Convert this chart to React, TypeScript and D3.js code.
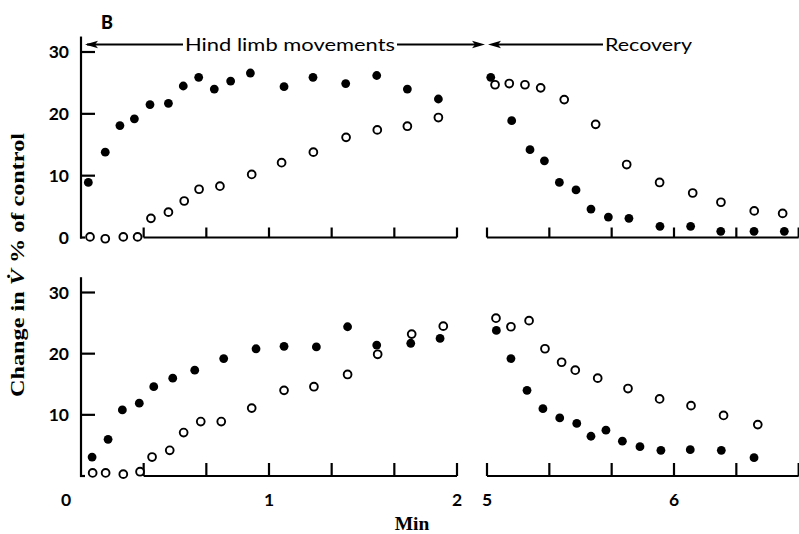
import React from "react";
import * as d3 from "d3";

// Data: [time (min), change in V (% of control)]
const topFilledExercise: [number, number][] = [
  [0.039, 8.9], [0.129, 13.8], [0.207, 18.1], [0.284, 19.2], [0.367, 21.5], [0.465, 21.7],
  [0.544, 24.5], [0.626, 25.9], [0.709, 24.0], [0.796, 25.3], [0.901, 26.6], [1.08, 24.4],
  [1.234, 25.9], [1.408, 24.9], [1.573, 26.2], [1.736, 24.0], [1.901, 22.4],
];
const topOpenExercise: [number, number][] = [
  [0.048, 0.1], [0.129, -0.2], [0.225, 0.1], [0.301, 0.1], [0.372, 3.1], [0.465, 4.1],
  [0.549, 5.9], [0.628, 7.8], [0.739, 8.3], [0.908, 10.2], [1.067, 12.1], [1.236, 13.8],
  [1.41, 16.2], [1.576, 17.4], [1.736, 18.0], [1.901, 19.4],
];
const topFilledRecovery: [number, number][] = [
  [5.02, 25.9], [5.132, 18.9], [5.23, 14.2], [5.307, 12.4], [5.387, 8.9], [5.476, 7.7],
  [5.556, 4.6], [5.649, 3.3], [5.759, 3.1], [5.925, 1.8], [6.089, 1.8], [6.25, 1.0],
  [6.428, 1.0], [6.59, 1.0],
];
const topOpenRecovery: [number, number][] = [
  [5.043, 24.7], [5.119, 24.9], [5.203, 24.7], [5.287, 24.2], [5.413, 22.3], [5.581, 18.3],
  [5.747, 11.8], [5.923, 8.9], [6.1, 7.2], [6.251, 5.7], [6.429, 4.3], [6.581, 3.9],
];
const botFilledExercise: [number, number][] = [
  [0.059, 3.1], [0.144, 6.0], [0.22, 10.8], [0.31, 11.9], [0.387, 14.6], [0.488, 16.0],
  [0.605, 17.3], [0.759, 19.2], [0.931, 20.8], [1.08, 21.2], [1.252, 21.1], [1.418, 24.4],
  [1.573, 21.4], [1.754, 21.7], [1.91, 22.5],
];
const botOpenExercise: [number, number][] = [
  [0.062, 0.5], [0.131, 0.5], [0.225, 0.3], [0.314, 0.7], [0.378, 3.1], [0.472, 4.2],
  [0.546, 7.1], [0.637, 8.9], [0.746, 8.9], [0.908, 11.1], [1.08, 14.0], [1.239, 14.6],
  [1.418, 16.6], [1.578, 19.9], [1.759, 23.2], [1.927, 24.5],
];
const botFilledRecovery: [number, number][] = [
  [5.05, 23.8], [5.128, 19.2], [5.214, 14.0], [5.299, 11.0], [5.389, 9.5], [5.48, 8.6],
  [5.556, 6.5], [5.636, 7.5], [5.724, 5.7], [5.818, 4.8], [5.93, 4.2], [6.087, 4.3],
  [6.253, 4.2], [6.428, 3.0],
];
const botOpenRecovery: [number, number][] = [
  [5.048, 25.8], [5.128, 24.4], [5.225, 25.4], [5.31, 20.8], [5.399, 18.6], [5.472, 17.3],
  [5.592, 16.0], [5.754, 14.3], [5.923, 12.6], [6.091, 11.5], [6.265, 9.9], [6.448, 8.4],
];

const yTicks = [0, 10, 20, 30];
const leftXTicks = [1 / 3, 2 / 3, 1, 4 / 3, 5 / 3, 2];
const rightXTicks = [5, 5 + 1 / 3, 5 + 2 / 3, 6, 6 + 1 / 3, 6 + 2 / 3];
const xTickLabels: [number, string, string][] = [
  [0, "0", "L"], [1, "1", "L"], [2, "2", "L"], [5, "5", "R"], [6, "6", "R"],
];

const W = 799;
const H = 534;

const xL = d3.scaleLinear().domain([0, 2]).range([81, 457]);
const xR = d3.scaleLinear().domain([5, 6]).range([487, 674]);
const yTop = d3.scaleLinear().domain([0, 30]).range([237.5, 52]);
const yBot = d3.scaleLinear().domain([0, 30]).range([476, 292.5]);

const sans = "Lato, 'Open Sans', sans-serif";
const serif = "'Liberation Serif', 'DejaVu Serif', serif";

function Points({ data, x, y, open }: { data: [number, number][]; x: any; y: any; open: boolean }) {
  return (
    <g>
      {data.map(([t, v], i) =>
        open ? (
          <circle key={i} cx={x(t)} cy={y(v)} r={3.9} fill="#fff" stroke="#000" strokeWidth={1.9} />
        ) : (
          <circle key={i} cx={x(t)} cy={y(v)} r={4.4} fill="#000" />
        )
      )}
    </g>
  );
}

function Panel({ y, tickH }: { y: any; tickH: number }) {
  const y0 = y(0);
  const sw = 2.2;
  return (
    <g stroke="#000" strokeWidth={sw} fill="none">
      {/* y axis */}
      <line x1={xL(0)} x2={xL(0)} y1={y(32.5)} y2={y0 + 1} />
      {yTicks.filter((d) => d > 0).map((d) => (
        <line key={d} x1={xL(0)} x2={xL(0) + 14} y1={y(d)} y2={y(d)} />
      ))}
      {/* left x axis segment */}
      <line x1={xL(0) - 1} x2={xL(0) + 4} y1={y0} y2={y0} />
      <line x1={xL(1 / 3)} x2={xL(2)} y1={y0} y2={y0} />
      {leftXTicks.map((d, i) => (
        <line key={i} x1={xL(d)} x2={xL(d)} y1={y0} y2={y0 - tickH} />
      ))}
      {/* right x axis segment */}
      <line x1={xR(5)} x2={xR(6 + 2 / 3)} y1={y0} y2={y0} />
      {rightXTicks.map((d, i) => (
        <line key={i} x1={xR(d)} x2={xR(d)} y1={y0} y2={y0 - tickH} />
      ))}
    </g>
  );
}

function YLabels({ y, values }: { y: any; values: number[] }) {
  return (
    <g fontFamily={sans} fontSize={17.5} fontWeight={700} textAnchor="end" fill="#000">
      {values.map((d) => (
        <text key={d} x={69} y={y(d)} dy="0.36em">
          {d}
        </text>
      ))}
    </g>
  );
}

export default function App() {
  const arrowY = 44.5;
  const head = (tipX: number, dir: number) =>
    `M${tipX},${arrowY} L${tipX + dir * 13},${arrowY - 3.8} L${tipX + dir * 10},${arrowY} L${tipX + dir * 13},${arrowY + 3.8} Z`;
  return (
    <svg width={W} height={H} style={{ position: "absolute", left: 0, top: 0, background: "#fff" }}>
      <rect x={0} y={0} width={W} height={H} fill="#fff" />
      {/* Panel label */}
      <text x={101} y={29} fontFamily={sans} fontWeight={900} fontSize={18}>
        B
      </text>
      {/* Phase arrows */}
      <g stroke="#000" strokeWidth={2} fill="#000">
        <line x1={xL(0) + 6} x2={183} y1={arrowY} y2={arrowY} />
        <path d={head(xL(0) + 4, 1)} stroke="none" />
        <line x1={397} x2={xR(5) - 8} y1={arrowY} y2={arrowY} />
        <path d={head(xR(5) - 2, -1)} stroke="none" />
        <line x1={xR(5) + 6} x2={603} y1={arrowY} y2={arrowY} />
        <path d={head(xR(5) + 1, 1)} stroke="none" />
      </g>
      <g fontFamily={sans} fontSize={17.5} fill="#000">
        <text x={185} y={arrowY} dy="0.36em" textLength={210} lengthAdjust="spacingAndGlyphs">
          Hind limb movements
        </text>
        <text x={605} y={arrowY} dy="0.36em" textLength={87} lengthAdjust="spacingAndGlyphs">
          Recovery
        </text>
      </g>

      <Panel y={yTop} tickH={10} />
      <Panel y={yBot} tickH={13} />

      <YLabels y={yTop} values={[0, 10, 20, 30]} />
      <YLabels y={yBot} values={[10, 20, 30]} />

      <Points data={topFilledExercise} x={xL} y={yTop} open={false} />
      <Points data={topOpenExercise} x={xL} y={yTop} open={true} />
      <Points data={topFilledRecovery} x={xR} y={yTop} open={false} />
      <Points data={topOpenRecovery} x={xR} y={yTop} open={true} />
      <Points data={botFilledExercise} x={xL} y={yBot} open={false} />
      <Points data={botOpenExercise} x={xL} y={yBot} open={true} />
      <Points data={botFilledRecovery} x={xR} y={yBot} open={false} />
      <Points data={botOpenRecovery} x={xR} y={yBot} open={true} />

      {/* x tick labels */}
      <g fontFamily={sans} fontSize={17.5} fontWeight={700} textAnchor="middle" fill="#000">
        {xTickLabels.map(([t, lab, side]) => (
          <text key={lab} x={side === "L" ? (t === 0 ? xL(t) - 15 : xL(t)) : xR(t)} y={500} dy="0.36em">
            {lab}
          </text>
        ))}
      </g>
      {/* axis titles */}
      <text x={412} y={530} textAnchor="middle" fontFamily={serif} fontWeight={700} fontSize={19.5}>
        Min
      </text>
      <text
        transform={`translate(24,265) rotate(-90)`}
        textAnchor="middle"
        fontFamily={serif}
        fontWeight={700}
        fontSize={19}
        textLength={264}
        lengthAdjust="spacingAndGlyphs"
      >
        Change in <tspan fontStyle="italic">V̇</tspan> % of control
      </text>
    </svg>
  );
}
